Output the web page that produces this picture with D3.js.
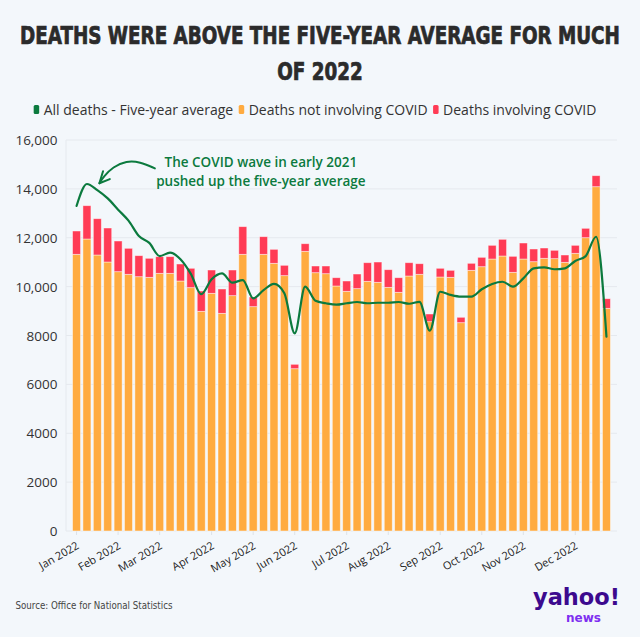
<!DOCTYPE html>
<html><head><meta charset="utf-8">
<script src="https://cdn.jsdelivr.net/npm/d3@7"></script>
<style>
html,body{margin:0;padding:0;background:#f3f7fb;}
svg{display:block;font-family:"Open Sans",sans-serif;}
</style></head><body>
<svg id="chart" width="640" height="637"></svg>
<script>
// ---------------- DATA ----------------
const weeks = ["2022-01-07","2022-01-14","2022-01-21","2022-01-28","2022-02-04","2022-02-11","2022-02-18","2022-02-25",
"2022-03-04","2022-03-11","2022-03-18","2022-03-25","2022-04-01","2022-04-08","2022-04-15","2022-04-22","2022-04-29",
"2022-05-06","2022-05-13","2022-05-20","2022-05-27","2022-06-03","2022-06-10","2022-06-17","2022-06-24","2022-07-01",
"2022-07-08","2022-07-15","2022-07-22","2022-07-29","2022-08-05","2022-08-12","2022-08-19","2022-08-26","2022-09-02",
"2022-09-09","2022-09-16","2022-09-23","2022-09-30","2022-10-07","2022-10-14","2022-10-21","2022-10-28","2022-11-04",
"2022-11-11","2022-11-18","2022-11-25","2022-12-02","2022-12-09","2022-12-16","2022-12-23","2022-12-30"];

const nonCovid = [11322,11949,11294,11007,10611,10504,10406,10381,10544,10544,
10230,9957,8990,9726,8907,9630,11322,9180,11322,10954,
10449,6641,11445,10570,10529,10026,9808,9917,10217,10176,
9971,9767,10435,10504,8565,10394,10381,8524,10667,10815,
11130,11253,10585,11130,11020,11159,11144,10995,11363,12002,
14089,9112];

const covid = [954,1363,1486,1392,1256,1064,861,778,682,682,
696,793,831,954,996,1050,1132,395,722,572,
423,180,311,274,315,339,422,599,762,831,
722,598,544,434,315,356,286,221,287,384,
560,683,655,655,520,421,342,299,327,384,
451,394];

const fiveYearAvg = [13300,14200,13950,13610,13150,12700,12070,11790,11250,11390,
11120,10520,9690,10300,10540,10160,10270,9520,9860,10110,
9730,8090,10000,9420,9320,9260,9320,9370,9320,9340,
9340,9370,9300,9380,8200,9790,9660,9590,9590,9890,
10110,10200,10000,10340,10750,10790,10710,10750,11050,11250,
12040,7950];

const yTicks = [0,2000,4000,6000,8000,10000,12000,14000,16000];
const yTickLabels = ["0","2000","4000","6000","8000","10,000","12,000","14,000","16,000"];
const xTickWeeks = ["2022-01-07","2022-02-04","2022-03-04","2022-04-08","2022-05-06","2022-06-03",
"2022-07-08","2022-08-05","2022-09-09","2022-10-07","2022-11-04","2022-12-09"];
const xTickLabels = ["Jan 2022","Feb 2022","Mar 2022","Apr 2022","May 2022","Jun 2022",
"Jul 2022","Aug 2022","Sep 2022","Oct 2022","Nov 2022","Dec 2022"];

const seriesNames = ["All deaths - Five-year average","Deaths not involving COVID","Deaths involving COVID"];
const seriesColors = ["#0b7a3e","#ffab40","#ff3b55"];

const titleLines = ["DEATHS WERE ABOVE THE FIVE-YEAR AVERAGE FOR MUCH","OF 2022"];
const annotationLines = ["The COVID wave in early 2021","pushed up the five-year average"];
// annotation arrow path in data space: [week index, deaths]
const arrowPoints = [[7.54,14840],[6.1,15110],[4.8,15150],[3.5,14900],[2.6,14500],[2.2,14230]];
const arrowHead = [[2.55,14720],[2.2,14230],[3.2,14400]];
const annotationAnchor = [17.74, 14880];
const sourceText = "Source: Office for National Statistics";

// ---------------- LAYOUT ----------------
const svg = d3.select("#chart");
const W = 640, H = 637;
const plot = {left:66, right:617, top:140, bottom:531};

svg.append("rect").attr("width",W).attr("height",H).attr("fill","#f3f7fb");

const x = d3.scaleBand().domain(weeks).range([plot.left, plot.right]).paddingInner(0.23).paddingOuter(0.63);
const y = d3.scaleLinear().domain([0,16000]).range([plot.bottom, plot.top]);
const bw = x.bandwidth();
const cx = i => x(weeks[0]) + bw/2 + i * x.step();

// title: fit width by font size, restore cap height with a vertical scale
const titleFont = "'Liberation Sans Narrow','DejaVu Sans Condensed',sans-serif";
const baseSize = 25, titleWidth = 600;
const titleG = svg.append("g");
const probe = titleG.append("text").attr("font-family",titleFont).attr("font-weight",700)
  .attr("font-size",baseSize).text(titleLines[0]);
const nat = probe.node().getComputedTextLength();
probe.remove();
const fs = Math.min(baseSize, baseSize * titleWidth / nat);
const ky = baseSize / fs;
[43.5, 79.5].forEach((ty,i)=>{
  titleG.append("text").attr("transform",`translate(320,${ty}) scale(1,${ky})`)
    .attr("text-anchor","middle").attr("font-family",titleFont).attr("font-weight",700)
    .attr("font-size",fs).attr("fill","#2b2b2b").attr("stroke","#2b2b2b").attr("stroke-width",0.6)
    .text(titleLines[i]);
});

// legend
const legend = svg.append("g");
let lx = 0;
seriesNames.forEach((name,i)=>{
  const g = legend.append("g").attr("transform",`translate(${lx},0)`);
  g.append("rect").attr("x",0).attr("y",105).attr("width",5.5).attr("height",9).attr("rx",1.5).attr("fill",seriesColors[i]);
  const tx = g.append("text").attr("x",10).attr("y",109.5).attr("dominant-baseline","central")
    .attr("font-size",14).attr("fill","#333").text(name);
  lx += 10 + tx.node().getComputedTextLength() + 5.5;
});
const legW = lx - 5.5;
legend.attr("transform",`translate(${315 - legW/2},0)`);

// gridlines
const grid = svg.append("g");
grid.selectAll("line.h").data(yTicks).join("line")
  .attr("x1",plot.left).attr("x2",plot.right).attr("y1",d=>y(d)).attr("y2",d=>y(d))
  .attr("stroke","#e5e9ee").attr("stroke-width",1);
grid.append("line").attr("x1",plot.left).attr("x2",plot.left).attr("y1",plot.top).attr("y2",plot.bottom)
  .attr("stroke","#e5e9ee").attr("stroke-width",1);
grid.selectAll("line.t").data(xTickWeeks).join("line")
  .attr("x1",d=>x(d)+bw/2).attr("x2",d=>x(d)+bw/2).attr("y1",plot.bottom).attr("y2",plot.bottom+4)
  .attr("stroke","#dde2e7").attr("stroke-width",1);

// y labels
svg.append("g").selectAll("text").data(yTicks).join("text")
  .attr("x",57.5).attr("y",d=>y(d)).attr("text-anchor","end").attr("dominant-baseline","central")
  .attr("font-size",13.5).attr("fill","#333").text((d,i)=>yTickLabels[i]);

// x labels
svg.append("g").selectAll("text").data(xTickWeeks).join("text")
  .attr("transform",d=>`translate(${x(d)+bw/2+1},${plot.bottom+13}) rotate(-30)`)
  .attr("text-anchor","end").attr("dominant-baseline","central")
  .attr("font-size",11).attr("fill","#222").text((d,i)=>xTickLabels[i]);

// stacked bars
const table = weeks.map((w,i)=>({week:w, nonCovid:nonCovid[i], covid:covid[i]}));
const stack = d3.stack().keys(["nonCovid","covid"])(table);
svg.append("g").selectAll("g").data(stack).join("g")
  .attr("fill",(d,i)=>seriesColors[i+1])
  .selectAll("rect").data(d=>d).join("rect")
  .attr("x",d=>x(d.data.week)).attr("width",bw)
  .attr("y",d=>y(d[1])).attr("height",d=>y(d[0])-y(d[1]))
  .attr("stroke","rgba(255,255,255,0.55)").attr("stroke-width",0.8);

// five-year average line
const line = d3.line().x((d,i)=>x(weeks[i])+bw/2).y(d=>y(d)).curve(d3.curveMonotoneX);
svg.append("path").datum(fiveYearAvg).attr("d",line)
  .attr("fill","none").attr("stroke",seriesColors[0]).attr("stroke-width",2.2)
  .attr("stroke-linejoin","round").attr("stroke-linecap","round");

// annotation
const aLine = d3.line().x(d=>cx(d[0])).y(d=>y(d[1])).curve(d3.curveBasis);
svg.append("path").datum(arrowPoints).attr("d",aLine).attr("fill","none")
  .attr("stroke",seriesColors[0]).attr("stroke-width",2).attr("stroke-linecap","round");
svg.append("path").datum(arrowHead).attr("d",d3.line().x(d=>cx(d[0])).y(d=>y(d[1])))
  .attr("fill","none").attr("stroke",seriesColors[0]).attr("stroke-width",2)
  .attr("stroke-linecap","round").attr("stroke-linejoin","round");
svg.append("g").selectAll("text").data(annotationLines).join("text")
  .attr("x",cx(annotationAnchor[0])).attr("y",(d,i)=>y(annotationAnchor[1])+i*18.5)
  .attr("text-anchor","middle").attr("font-size",13.5).attr("font-weight",600)
  .attr("fill",seriesColors[0]).text(d=>d);

// source
svg.append("text").attr("x",15.5).attr("y",609).attr("font-size",11)
  .attr("font-family",titleFont)
  .attr("fill","#444").attr("textLength",157).attr("lengthAdjust","spacingAndGlyphs").text(sourceText);

// logo
svg.append("text").attr("x",533).attr("y",605).attr("font-family","'DejaVu Sans',sans-serif")
  .attr("font-weight",700).attr("font-size",23).attr("fill","#3c0a8e")
  .attr("textLength",87).attr("lengthAdjust","spacingAndGlyphs").text("yahoo!");
svg.append("text").attr("x",566).attr("y",622).attr("font-family","'DejaVu Sans',sans-serif")
  .attr("font-weight",700).attr("font-size",11.5).attr("fill","#7e2ff0")
  .attr("textLength",35).attr("lengthAdjust","spacingAndGlyphs").text("news");
</script>
</body></html>
